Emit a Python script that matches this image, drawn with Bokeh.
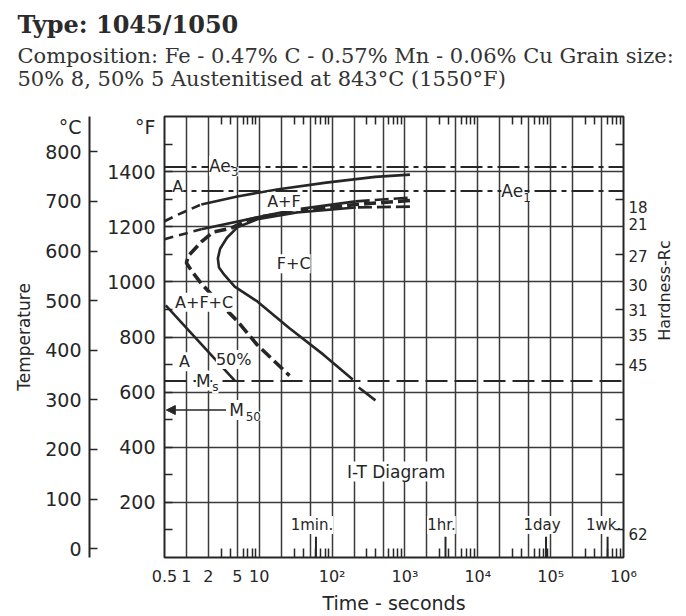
import math
from bokeh.plotting import figure
from bokeh.models import (Range1d, LinearAxis, LogAxis, FixedTicker, Span,
                          Arrow, NormalHead, Title)
from bokeh.embed import file_html
from bokeh.resources import INLINE
from bokeh.core.properties import value

# ---------------- data ----------------
title_text = "Type: 1045/1050"
composition_line = "Composition: Fe - 0.47% C - 0.57% Mn - 0.06% Cu Grain size:"
austenitising_line = "50% 8, 50% 5 Austenitised at 843°C (1550°F)"

time_ticks = [0.5, 1, 2, 5, 10, 100, 1000, 10000, 100000, 1000000]
time_tick_labels = ["0.5", "1", "2", "5", "10", "10²", "10³", "10⁴", "10⁵", "10⁶"]
time_grid = [1, 2, 5, 10, 20, 50, 100, 200, 500, 1000, 2000, 5000,
             10000, 20000, 50000, 100000, 200000, 500000]
time_minor = [3, 4, 6, 7, 8, 9, 30, 40, 60, 70, 80, 90,
              300, 400, 600, 700, 800, 900, 3000, 4000, 6000, 7000, 8000, 9000,
              30000, 40000, 60000, 70000, 80000, 90000,
              300000, 400000, 600000, 700000, 800000, 900000]

temp_f_ticks = [200, 400, 600, 800, 1000, 1200, 1400]
temp_f_small_ticks = [100, 200, 300, 400, 500, 600, 700, 800, 900, 1000,
                      1100, 1200, 1300, 1400, 1500]
temp_f_minor = [100, 300, 500, 700, 900, 1100, 1300, 1500]
temp_c_ticks = [0, 100, 200, 300, 400, 500, 600, 700, 800]
unit_label_f = 1561          # height (in F) of the "°F" / "°C" captions
unit_label_c = 849.4         # same height expressed in C

hardness_temp_f = [1270, 1209, 1094, 987, 897, 807, 700, 86]
hardness_labels = ["18", "21", "27", "30", "31", "35", "45", "62"]
hardness_title = "Hardness-Rc"
hardness_title_f = 786       # height (in F) where the upward caption starts

ae3_f = 1417
ae1_f = 1330
ms_f = 640
m50_f = 535

# transformation curves: time (s), temperature (F)
ferrite_start_ext_t = [0.5, 0.78, 1.6]
ferrite_start_ext_f = [1220, 1245, 1281]
ferrite_start_t = [1.6, 5, 17.5, 83, 390, 1170]
ferrite_start_f = [1281, 1310, 1335, 1360, 1381, 1389]

start_ext_t = [0.5, 0.71, 1.6]
start_ext_f = [1155, 1166, 1191]
start_t = [1.6, 9.4, 33, 211]
start_f = [1191, 1234, 1263, 1292]
start_tail_t = [211, 1170]
start_tail_f = [1292, 1306]
start_lower_t = [0.52, 4.6]
start_lower_f = [915, 642]

half_t = [1170, 211, 33, 11.7, 6.9, 4.1, 2.3, 1.6, 1.06, 1.0, 1.17, 1.6, 2.7, 5.0, 9.4, 26]
half_f = [1295, 1281, 1256, 1238, 1224, 1195, 1180, 1145, 1094, 1069, 1041, 994, 929, 858, 771, 660]

finish_t = [211, 33, 9.4, 5, 3.6, 2.9, 2.7, 2.8, 3.3, 4.6, 9.4, 26, 76, 192]
finish_f = [1270, 1252, 1227, 1198, 1160, 1120, 1085, 1052, 1026, 983, 929, 832, 736, 646]
finish_tail_t = [1170, 211]
finish_tail_f = [1273, 1270]
finish_below_ms_t = [232, 393]
finish_below_ms_f = [617, 570]

region_labels = ["A", "A+F", "F+C", "A+F+C", "A", "50%"]
region_t = [0.76, 21.8, 29.7, 1.75, 0.94, 4.45]
region_f = [1346, 1292, 1066, 926, 710, 718]

crit_main = ["Ae", "Ae", "M", "M"]
crit_sub = ["3", "1", "s", "50"]
crit_t = [2.88, 29700, 1.7, 4.9]
crit_f = [1421, 1328, 642, 535]

diagram_label = "I-T Diagram"
diagram_t = 755
diagram_f = 312

marker_t = [60, 3600, 86400, 604800]
marker_labels = ["1min.", "1hr.", "1day", "1wk."]
marker_label_f = 118
marker_tick_f = 75

# ---------------- styling ----------------
INK = "#262626"
GRID = "#3a3a3a"
SANS = "DejaVu Sans"
SERIF = "DejaVu Serif"
F_MIN, F_MAX = 0, 1600

p = figure(width=686, height=616, x_axis_type="log",
           x_range=Range1d(time_ticks[0], time_ticks[-1]),
           y_range=Range1d(F_MIN, F_MAX),
           output_backend="svg", toolbar_location=None, title=None,
           min_border_left=164, min_border_right=58,
           min_border_top=116, min_border_bottom=54)
p.background_fill_color = "white"
p.border_fill_color = "white"
p.outline_line_color = INK
p.outline_line_width = 2

# grids
p.xgrid.ticker = FixedTicker(ticks=time_grid)
p.ygrid.ticker = FixedTicker(ticks=temp_f_ticks)
for g in (p.xgrid, p.ygrid):
    g.grid_line_color = GRID
    g.grid_line_width = 1.5
    g.grid_line_alpha = 1.0

# bottom time axis
xa = p.xaxis[0]
xa.ticker = FixedTicker(ticks=time_ticks, minor_ticks=time_minor)
xa.major_label_overrides = {t: l for t, l in zip(time_ticks, time_tick_labels)}
xa.major_tick_in = 0
xa.major_tick_out = 0
xa.minor_tick_in = 9
xa.minor_tick_out = 0
xa.minor_tick_line_color = INK
xa.minor_tick_line_width = 1.5
xa.axis_line_color = None
xa.major_label_standoff = 9
xa.major_label_text_font = SANS
xa.major_label_text_font_size = "16px"
xa.major_label_text_color = INK
xa.axis_label = "Time - seconds"
xa.axis_label_text_font = SANS
xa.axis_label_text_font_style = "normal"
xa.axis_label_text_font_size = "19px"
xa.axis_label_text_color = INK
xa.axis_label_standoff = 3

# top axis: minor ticks only (its blank label only reserves room under the titles)
top_axis = LogAxis(ticker=FixedTicker(ticks=[], minor_ticks=time_minor),
                   major_tick_in=0, major_tick_out=0, minor_tick_in=8, minor_tick_out=0,
                   minor_tick_line_color=INK, minor_tick_line_width=1.5,
                   axis_line_color=None, axis_label=" ",
                   axis_label_text_font=SANS, axis_label_text_font_size="14px",
                   axis_label_standoff=7)
p.add_layout(top_axis, "above")

# titles (added from the frame outwards)
p.add_layout(Title(text=austenitising_line, align="left", offset=-147, standoff=0,
                   text_font=SERIF, text_font_size="21px", text_font_style="normal",
                   text_color="#333333"), "above")
p.add_layout(Title(text=composition_line, align="left", offset=-147, standoff=-7,
                   text_font=SERIF, text_font_size="21px", text_font_style="normal",
                   text_color="#333333"), "above")
p.add_layout(Title(text=title_text, align="left", offset=-147, standoff=14,
                   text_font=SERIF, text_font_size="24px", text_font_style="bold",
                   text_color="#2b2b2b"), "above")

# left Fahrenheit axis (caption "°F" carried as the top label)
ya = p.yaxis[0]
ya.ticker = FixedTicker(ticks=temp_f_ticks + [unit_label_f], minor_ticks=temp_f_small_ticks)
ya.major_label_overrides = {unit_label_f: "°F"}
ya.major_tick_in = 0
ya.major_tick_out = 0
ya.minor_tick_in = 8
ya.minor_tick_out = 0
ya.minor_tick_line_color = INK
ya.minor_tick_line_width = 1.5
ya.axis_line_color = None
ya.major_label_standoff = 9
ya.major_label_text_font = SANS
ya.major_label_text_font_size = "19px"
ya.major_label_text_color = INK
ya.axis_label = " "
ya.axis_label_text_font_size = "10px"
ya.axis_label_standoff = 1

# left Celsius axis (caption "°C" carried as the top label)
p.extra_y_ranges = {"C": Range1d((F_MIN - 32) / 1.8, (F_MAX - 32) / 1.8)}
c_axis = LinearAxis(y_range_name="C",
                    ticker=FixedTicker(ticks=temp_c_ticks + [unit_label_c], minor_ticks=temp_c_ticks),
                    major_label_overrides={unit_label_c: "°C"},
                    major_tick_in=0, major_tick_out=0,
                    minor_tick_in=8, minor_tick_out=0,
                    minor_tick_line_color=INK, minor_tick_line_width=1.5,
                    axis_line_color=INK, axis_line_width=2,
                    major_label_standoff=8,
                    major_label_text_font=SANS, major_label_text_font_size="19px",
                    major_label_text_color=INK,
                    axis_label="Temperature", axis_label_text_font=SANS,
                    axis_label_text_font_style="normal",
                    axis_label_text_font_size="17px", axis_label_text_color=INK,
                    axis_label_standoff=8)
p.add_layout(c_axis, "left")

# right hardness axis
h_axis = LinearAxis(ticker=FixedTicker(ticks=hardness_temp_f, minor_ticks=temp_f_minor),
                    major_label_overrides={t: l for t, l in zip(hardness_temp_f, hardness_labels)},
                    major_tick_in=0, major_tick_out=0,
                    minor_tick_in=8, minor_tick_out=0,
                    minor_tick_line_color=INK, minor_tick_line_width=1.5,
                    axis_line_color=None, major_label_standoff=5,
                    major_label_text_font=SANS, major_label_text_font_size="15px",
                    major_label_text_color=INK)
p.add_layout(h_axis, "right")

# rotated "Hardness-Rc" caption, reading upwards, carried by a second right axis
h_title_axis = LinearAxis(ticker=FixedTicker(ticks=[hardness_title_f], minor_ticks=[]),
                          major_label_overrides={hardness_title_f: hardness_title},
                          major_label_orientation=math.pi / 2,
                          major_tick_in=0, major_tick_out=0,
                          minor_tick_in=0, minor_tick_out=0,
                          axis_line_color=None, major_label_standoff=14,
                          major_label_text_font=SANS, major_label_text_font_size="16px",
                          major_label_text_color=INK)
p.add_layout(h_title_axis, "right")

# critical temperature lines
for loc, dash in ((ae3_f, "22 5 5 5"), (ae1_f, "22 5 5 5"), (ms_f, "22 7")):
    p.add_layout(Span(location=loc, dimension="width", line_color=INK,
                      line_width=2, line_dash=dash, level="underlay"))

# curves
LW = 2.6
p.line(ferrite_start_ext_t, ferrite_start_ext_f, line_color=INK, line_width=LW, line_dash="9 6")
p.line(ferrite_start_t, ferrite_start_f, line_color=INK, line_width=LW)
p.line(start_ext_t, start_ext_f, line_color=INK, line_width=LW, line_dash="9 6")
p.line(start_t, start_f, line_color=INK, line_width=LW)
p.line(start_tail_t, start_tail_f, line_color=INK, line_width=LW, line_dash="14 5")
p.line(start_lower_t, start_lower_f, line_color=INK, line_width=LW)
p.line(half_t, half_f, line_color=INK, line_width=3.6, line_dash="12 5")
p.line(finish_t, finish_f, line_color=INK, line_width=LW)
p.line(finish_tail_t, finish_tail_f, line_color=INK, line_width=LW, line_dash="14 5")
p.line(finish_below_ms_t, finish_below_ms_f, line_color=INK, line_width=LW)

# M50 arrow
p.add_layout(Arrow(end=NormalHead(size=9, fill_color=INK, line_color=INK),
                   x_start=3.5, y_start=m50_f, x_end=time_ticks[0] * 1.06, y_end=m50_f,
                   line_color=INK, line_width=1.5))

# time markers
p.segment(x0=marker_t, y0=[F_MIN] * len(marker_t), x1=marker_t,
          y1=[marker_tick_f] * len(marker_t), line_color=INK, line_width=2)

# texts inside
p.text(x=region_t, y=region_f, text=region_labels, text_font=value(SANS),
       text_font_size="16px", text_color=INK, text_align="center",
       text_baseline="middle", background_fill_color="white")
p.text(x=crit_t, y=crit_f, text=crit_main, text_font=value(SANS),
       text_font_size="17px", text_color=INK, text_align="center",
       text_baseline="middle", background_fill_color="white")
p.text(x=crit_t, y=crit_f, text=crit_sub, text_font=value(SANS),
       text_font_size="12px", text_color=INK, text_align="left",
       text_baseline="middle", x_offset=[11, 11, 9, 9], y_offset=[6, 6, 6, 6],
       background_fill_color="white")
p.text(x=[diagram_t], y=[diagram_f], text=[diagram_label], text_font=value(SANS),
       text_font_size="17px", text_color=INK, text_align="center",
       text_baseline="middle", background_fill_color="white")
p.text(x=marker_t, y=[marker_label_f] * len(marker_t), text=marker_labels,
       text_font=value(SANS), text_font_size="15px", text_color=INK,
       text_align="center", text_baseline="middle", x_offset=-4,
       background_fill_color="white")

open("out.html", "w").write(file_html(p, INLINE))
